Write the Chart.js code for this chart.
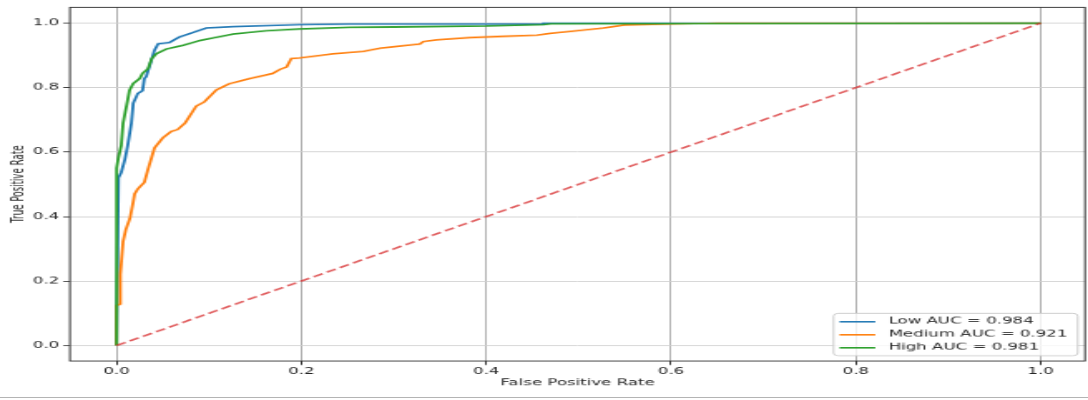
<!DOCTYPE html>
<html>
<head>
  <title>ROC Curves</title>
  <script src="https://cdn.jsdelivr.net/npm/chart.js"></script>
  <style>
    body { margin: 0; background: #fff; overflow: hidden; }
    /* the reference is a matplotlib figure squeezed into 1088x400, so draw small and stretch */
    #wrap { position: absolute; left: 0; top: 0; transform: scale(1.6611, 0.8696); transform-origin: 0 0; }
    #edge { position: absolute; left: 0; top: 397px; width: 1088px; height: 1px; background: #b4b4b4; }
  </style>
</head>
<body>
<div id="wrap"><canvas id="rocChart" width="655" height="460"></canvas></div>
<div id="edge"></div>

<script>
  // ROC points
  const lowFpr = [0, 0.001, 0.002, 0.005, 0.009, 0.012, 0.016, 0.018, 0.023, 0.028, 0.030, 0.032, 0.036, 0.041, 0.045, 0.057, 0.068, 0.083, 0.097, 0.126, 0.198, 0.252, 0.462, 0.462, 1];
  const lowTpr = [0, 0, 0.52, 0.537, 0.578, 0.62, 0.69, 0.752, 0.782, 0.79, 0.828, 0.834, 0.87, 0.916, 0.936, 0.94, 0.957, 0.971, 0.985, 0.989, 0.995, 0.997, 0.997, 1, 1];

  const medFpr = [0, 0, 0.004, 0.004, 0.007, 0.010, 0.0144, 0.018, 0.0195, 0.023, 0.030, 0.034, 0.041, 0.050, 0.059, 0.066, 0.074, 0.086, 0.095, 0.108, 0.122, 0.144, 0.169, 0.177, 0.184, 0.189, 0.198, 0.234, 0.267, 0.285, 0.328, 0.332, 0.346, 0.382, 0.418, 0.455, 0.469, 0.491, 0.527, 0.549, 0.60, 0.65, 1];
  const medTpr = [0, 0.124, 0.128, 0.22, 0.323, 0.36, 0.394, 0.446, 0.47, 0.486, 0.506, 0.547, 0.613, 0.644, 0.664, 0.67, 0.69, 0.742, 0.756, 0.793, 0.812, 0.828, 0.844, 0.857, 0.864, 0.89, 0.892, 0.905, 0.912, 0.922, 0.935, 0.943, 0.948, 0.955, 0.959, 0.963, 0.968, 0.974, 0.985, 0.994, 0.997, 1, 1];

  const highFpr = [0, 0, 0.002, 0.005, 0.007, 0.012, 0.014, 0.018, 0.025, 0.028, 0.034, 0.038, 0.043, 0.054, 0.072, 0.090, 0.126, 0.162, 0.198, 0.252, 0.30, 0.40, 0.462, 0.47, 1];
  const highTpr = [0, 0.55, 0.583, 0.62, 0.69, 0.762, 0.792, 0.813, 0.828, 0.844, 0.859, 0.89, 0.905, 0.92, 0.931, 0.946, 0.966, 0.976, 0.982, 0.987, 0.988, 0.991, 0.995, 0.998, 1];

  const chanceFpr = [0, 1];
  const chanceTpr = [0, 1];

  const classLabels = ['Low AUC = 0.984', 'Medium AUC = 0.921', 'High AUC = 0.981'];
  const xTicks = [0, 0.2, 0.4, 0.6, 0.8, 1.0];
  const yTicks = [0, 0.2, 0.4, 0.6, 0.8, 1.0];

  const toPoints = (xs, ys) => xs.map((x, i) => ({ x: x, y: ys[i] }));
  const font = { family: 'DejaVu Sans', size: 10 };

  // frame on all four sides + matplotlib style legend in the lower right
  const frameAndLegend = {
    id: 'frameAndLegend',
    afterDatasetsDraw(chart) {
      const { ctx, chartArea } = chart;
      ctx.save();
      ctx.strokeStyle = '#333';
      ctx.lineWidth = 1;
      ctx.strokeRect(chartArea.left, chartArea.top, chartArea.right - chartArea.left, chartArea.bottom - chartArea.top);

      const items = chart.data.datasets.filter(d => d.inLegend);
      const w = 147, h = 48.7, rowH = 15;
      const right = chartArea.right - 4.4, bottom = chartArea.bottom - 6.1;
      const left = right - w, top = bottom - h;
      ctx.beginPath();
      ctx.roundRect(left, top, w, h, 3);
      ctx.fillStyle = 'rgba(255,255,255,0.8)';
      ctx.fill();
      ctx.strokeStyle = '#cccccc';
      ctx.stroke();
      ctx.font = '10px "DejaVu Sans"';
      ctx.textBaseline = 'middle';
      items.forEach((d, i) => {
        const y = top + 9.6 + i * rowH;
        ctx.strokeStyle = d.borderColor;
        ctx.lineWidth = 1.8;
        ctx.beginPath();
        ctx.moveTo(left + 3.6, y);
        ctx.lineTo(left + 25.1, y);
        ctx.stroke();
        ctx.fillStyle = '#262626';
        ctx.fillText(d.label, left + 33.1, y);
      });
      ctx.restore();
    }
  };

  const ctx = document.getElementById('rocChart').getContext('2d');
  new Chart(ctx, {
    type: 'scatter',
    data: {
      datasets: [
        { label: classLabels[0], data: toPoints(lowFpr, lowTpr), borderColor: '#1f77b4', order: 3, inLegend: true },
        { label: classLabels[1], data: toPoints(medFpr, medTpr), borderColor: '#ff7f0e', order: 2, inLegend: true },
        { label: classLabels[2], data: toPoints(highFpr, highTpr), borderColor: '#2ca02c', order: 1, inLegend: true },
        { label: 'chance', data: toPoints(chanceFpr, chanceTpr), borderColor: 'rgba(214,39,40,0.75)', borderDash: [6.5, 3], order: 0 }
      ].map(d => Object.assign({ showLine: true, pointRadius: 0, borderWidth: 1.8, tension: 0, fill: false }, d))
    },
    options: {
      responsive: false,
      animation: false,
      layout: { padding: { top: 3.8, right: 1.8, left: 0, bottom: 0 } },
      plugins: { legend: { display: false }, tooltip: { enabled: false } },
      scales: {
        x: {
          type: 'linear', min: -0.0505, max: 1.048,
          afterBuildTicks: s => { s.ticks = xTicks.map(v => ({ value: v })); },
          afterFit: s => { s.height = 44.9; },
          grid: { color: '#b0b0b0', tickColor: '#333', tickLength: 4.6 },
          border: { display: false },
          ticks: { font: font, color: '#262626', padding: 1.7, autoSkip: false, maxRotation: 0, callback: v => v.toFixed(1) },
          title: { display: true, text: 'False Positive Rate', font: font, color: '#262626', padding: { top: 0, bottom: 13.2 } }
        },
        y: {
          type: 'linear', min: -0.048, max: 1.049,
          afterBuildTicks: s => { s.ticks = yTicks.map(v => ({ value: v })); },
          afterFit: s => { s.width = 42.1; },
          grid: { color: '#cfcfcf', tickColor: '#333', tickLength: 4 },
          border: { display: false },
          ticks: { font: font, color: '#262626', padding: 2.4, autoSkip: false, callback: v => v.toFixed(1) },
          title: { display: true, text: 'True Positive Rate', font: font, color: '#262626', padding: { top: 5, bottom: 0 } }
        }
      }
    },
    plugins: [frameAndLegend]
  });
</script>
</body>
</html>
